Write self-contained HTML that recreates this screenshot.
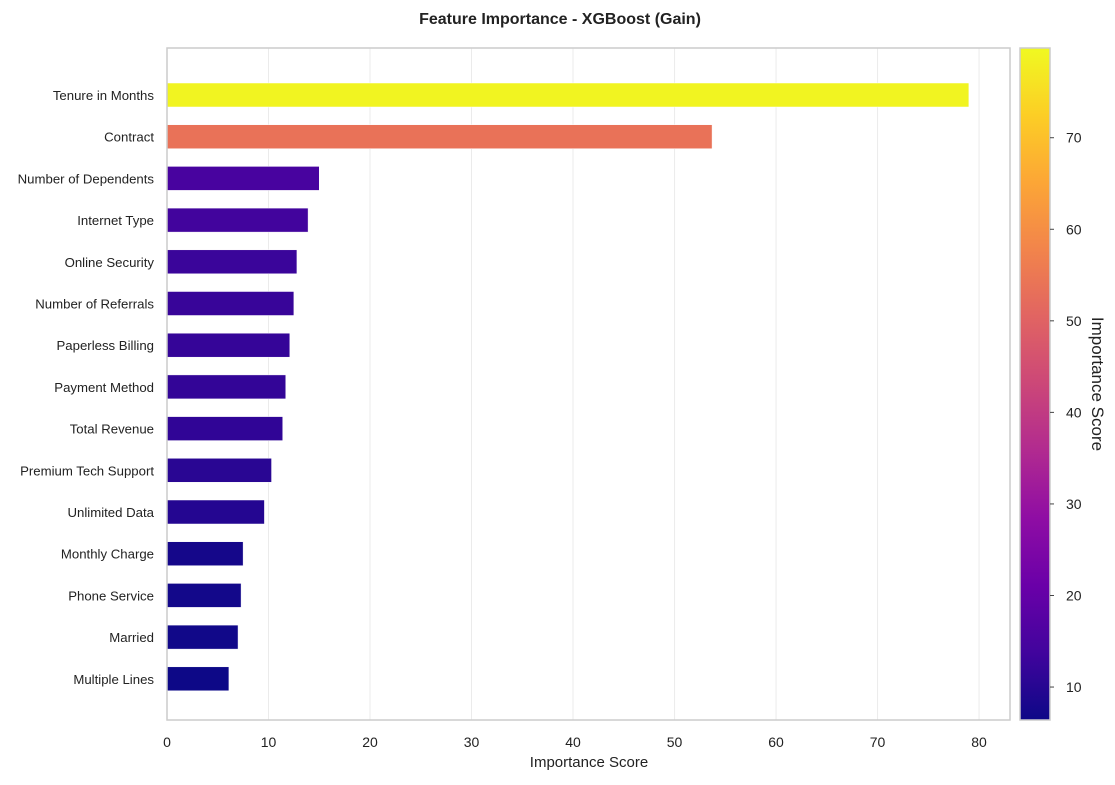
<!DOCTYPE html>
<html><head><meta charset="utf-8"><style>
body{margin:0;background:#fff;font-family:"Liberation Sans","DejaVu Sans",sans-serif;}
</style></head><body>
<svg id="chart" width="1115" height="780" xmlns="http://www.w3.org/2000/svg">
<defs><linearGradient id="cbg" x1="0" y1="1" x2="0" y2="0"></linearGradient></defs>
<text x="560" y="24" text-anchor="middle" font-size="16" font-weight="bold" fill="#222">Feature Importance - XGBoost (Gain)</text>
<g id="grid"></g><g id="bars"></g><g id="ylabels"></g><g id="xticks"></g><g id="cb"></g>
<rect x="167" y="48" width="843" height="672" fill="none" stroke="#ccc" stroke-width="1.5"/>
<text x="589" y="767" text-anchor="middle" font-size="15" fill="#222">Importance Score</text>
<text transform="translate(1092,384) rotate(90)" text-anchor="middle" font-size="17" fill="#222">Importance Score</text>
</svg>
<script>
const features=["Tenure in Months","Contract","Number of Dependents","Internet Type","Online Security","Number of Referrals","Paperless Billing","Payment Method","Total Revenue","Premium Tech Support","Unlimited Data","Monthly Charge","Phone Service","Married","Multiple Lines"];
const values=[79.0,53.7,15.0,13.9,12.8,12.5,12.1,11.7,11.4,10.3,9.6,7.5,7.3,7.0,6.1];
const xTicks=[0,10,20,30,40,50,60,70,80];
const cbTicks=[10,20,30,40,50,60,70];
const cbRange=[6.4,79.8];
const NS="http://www.w3.org/2000/svg";
const X0=167,XW=843,XMAX=83.05,Y0=48,YH=672;
const xs=v=>X0+v/XMAX*XW;
const step=41.7,firstC=95;
const yc=i=>firstC+i*step;
const stops=["#0d0887","#41049d","#6a00a8","#8f0da4","#b12a90","#cc4778","#e16462","#f2844b","#fca636","#fcce25","#f0f921"];
function hex(h){return [1,3,5].map(i=>parseInt(h.substr(i,2),16));}
function plasma(t){t=Math.max(0,Math.min(1,t));const p=t*10,i=Math.min(9,Math.floor(p)),f=p-i;const a=hex(stops[i]),b=hex(stops[i+1]);return "rgb("+a.map((c,k)=>Math.round(c+(b[k]-c)*f)).join(",")+")";}
const vmin=cbRange[0],vmax=cbRange[1];
function mk(tag,attrs,parent,txt){const e=document.createElementNS(NS,tag);for(const k in attrs)e.setAttribute(k,attrs[k]);if(txt!==undefined)e.textContent=txt;document.getElementById(parent).appendChild(e);return e;}
xTicks.forEach(t=>{
 const l=mk("line",{x1:xs(t),x2:xs(t),y1:Y0,y2:Y0+YH,stroke:"#ebebeb","stroke-width":1},"grid");
 
 
 const tx=mk("text",{x:xs(t),y:747,"text-anchor":"middle","font-size":14,fill:"#222"},"xticks",String(t));
 
 
});
features.forEach((f,i)=>{
 const r=mk("rect",{x:X0,y:yc(i)-12,width:xs(values[i])-X0,height:24,fill:plasma((values[i]-vmin)/(vmax-vmin)),stroke:"#fff","stroke-width":0.5},"bars");
 
 
 const t=mk("text",{x:154,y:yc(i)+5,"text-anchor":"end","font-size":13.2,fill:"#222"},"ylabels",f);
 
 
});
const g=document.getElementById("cbg");
stops.forEach((s,i)=>{const st=document.createElementNS(NS,"stop");st.setAttribute("offset",i/10);st.setAttribute("stop-color",s);g.appendChild(st);});
const CX=1020,CW=30;
const cb=mk("rect",{x:CX,y:Y0,width:CW,height:YH,fill:"url(#cbg)",stroke:"#ccc","stroke-width":1.5},"cb");


const cy=v=>Y0+YH-(v-vmin)/(vmax-vmin)*YH;
cbTicks.forEach(t=>{
 const tk=mk("line",{x1:CX+CW,x2:CX+CW+4,y1:cy(t),y2:cy(t),stroke:"#444"},"cb");
 
 
 const tx=mk("text",{x:CX+CW+16,y:cy(t)+5,"font-size":14,fill:"#222"},"cb",String(t));
 
 
});
</script>
</body></html>
